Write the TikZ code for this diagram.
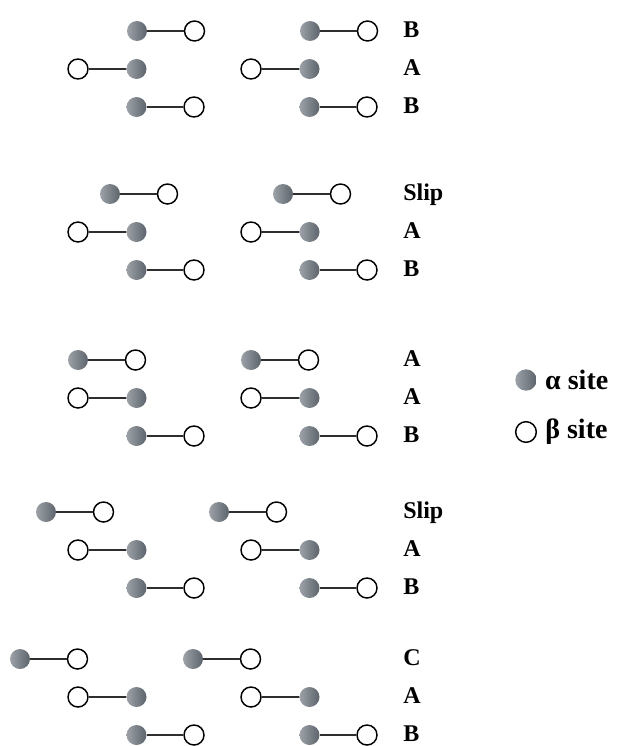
\documentclass[tikz,border=0pt]{standalone}
\usepackage{fontspec}
\setmainfont{Liberation Serif}
\usetikzlibrary{positioning}
\definecolor{sitelight}{HTML}{9CA2A8}
\definecolor{sitedark}{HTML}{5C636A}
\definecolor{bondgray}{HTML}{2E2E2E}

\begin{document}
\begin{tikzpicture}[
  x=0.75pt, y=-0.75pt,
  alphasite/.style={
    circle,
    inner sep=0pt,
    minimum size=15pt,
    left color=sitelight,
    right color=sitedark
  },
  betasite/.style={
    circle,
    inner sep=0pt,
    minimum size=15pt,
    draw=black,
    line width=1.1pt,
    fill=white
  },
  bond/.style={
    line width=1.1pt,
    draw=bondgray
  },
  layerlabel/.style={
    font=\bfseries\fontsize{18}{21}\selectfont,
    anchor=base west,
    inner sep=0pt
  },
  keylabel/.style={
    font=\bfseries\fontsize{21}{25}\selectfont,
    anchor=west,
    inner sep=0pt
  }
]
  \useasboundingbox (0,0) rectangle (620,746);

  % =========================================================================
  % STACKING SEQUENCES (top layer varies, A and B layers fixed)
  % =========================================================================
  \foreach \blk/\yy/\xtop/\lbl in {1/31/137/B, 2/194/110/Slip, 3/360/78/A, 4/512/46/Slip, 5/659/20/C} {
    \foreach \grp/\dx in {1/0, 2/173} {
      % top layer
      \node[alphasite] (a-\blk-\grp-t) at (\xtop+\dx, \yy) {};
      \node[betasite] (b-\blk-\grp-t) at (\xtop+\dx+57.5, \yy) {};
      \draw[bond] (a-\blk-\grp-t) -- (b-\blk-\grp-t);
      % A layer
      \node[betasite] (b-\blk-\grp-m) at (78+\dx, \yy+38) {};
      \node[alphasite] (a-\blk-\grp-m) at (136.5+\dx, \yy+38) {};
      \draw[bond] (b-\blk-\grp-m) -- (a-\blk-\grp-m);
      % B layer
      \node[alphasite] (a-\blk-\grp-b) at (136.5+\dx, \yy+76) {};
      \node[betasite] (b-\blk-\grp-b) at (194+\dx, \yy+76) {};
      \draw[bond] (a-\blk-\grp-b) -- (b-\blk-\grp-b);
    }
    \node[layerlabel] (lbl-\blk-t) at (403, \yy+6.5) {\lbl};
    \node[layerlabel] (lbl-\blk-m) at (403, \yy+44.5) {A};
    \node[layerlabel] (lbl-\blk-b) at (403, \yy+82.5) {B};
  }

  % Legend
  \node[alphasite, minimum size=16pt] (key_alpha) at (526, 380) {};
  \node[betasite, minimum size=15.5pt] (key_beta) at (526, 432) {};
  \node[keylabel] (key_alpha_txt) at ([xshift=6pt]key_alpha.east) {α site};
  \node[keylabel] (key_beta_txt) at ([xshift=6pt]key_beta.east) {β site};

\end{tikzpicture}
\end{document}
